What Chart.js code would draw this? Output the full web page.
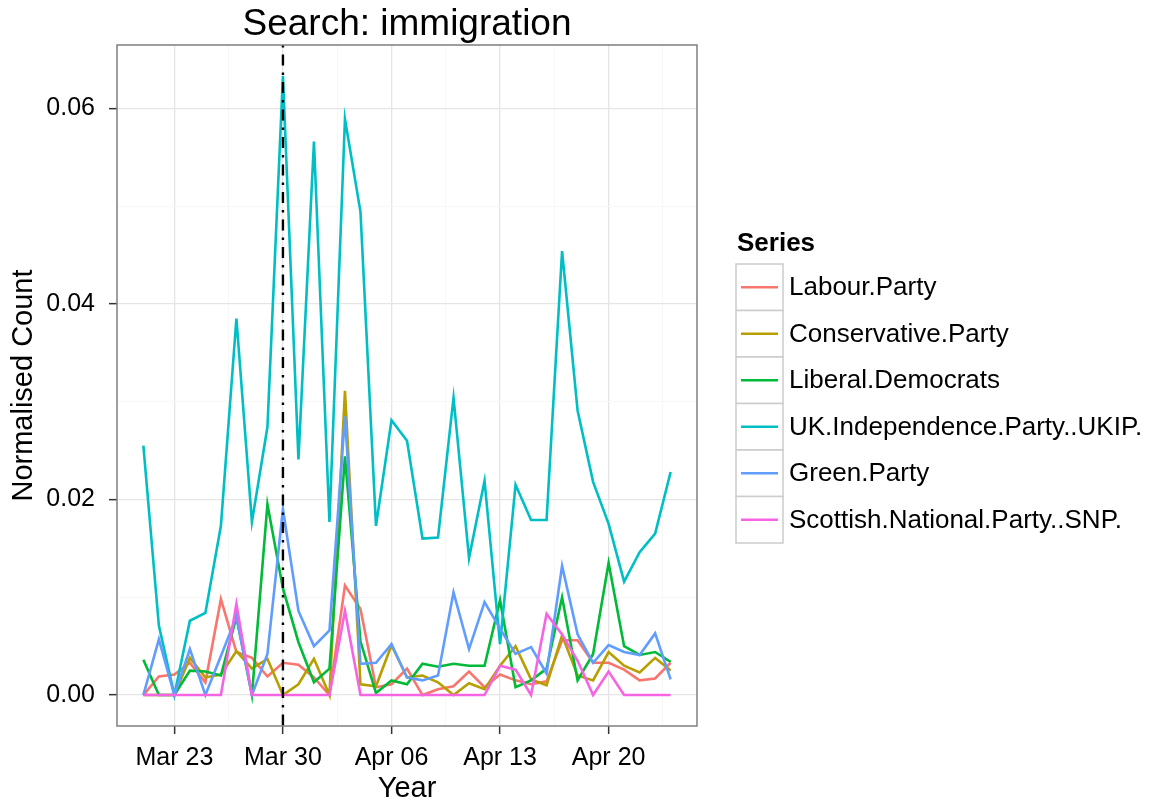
<!DOCTYPE html>
<html lang="en">
<head>
    <meta charset="UTF-8">
    <title>Search: immigration</title>
    <script src="https://cdn.jsdelivr.net/npm/chart.js"></script>
    <style>
        body { margin: 0; padding: 0; background: #fff; }
        #wrap { width: 1161px; height: 803px; }
    </style>
</head>
<body>
<div id="wrap"><canvas id="chart" width="1161" height="803"></canvas></div>
<script>
    // daily points, Mar 21 .. Apr 24
    const days = ['Mar 21', 'Mar 22', 'Mar 23', 'Mar 24', 'Mar 25', 'Mar 26', 'Mar 27', 'Mar 28', 'Mar 29', 'Mar 30',
                  'Mar 31', 'Apr 01', 'Apr 02', 'Apr 03', 'Apr 04', 'Apr 05', 'Apr 06', 'Apr 07', 'Apr 08', 'Apr 09',
                  'Apr 10', 'Apr 11', 'Apr 12', 'Apr 13', 'Apr 14', 'Apr 15', 'Apr 16', 'Apr 17', 'Apr 18', 'Apr 19',
                  'Apr 20', 'Apr 21', 'Apr 22', 'Apr 23', 'Apr 24'];

    const labour = [0, 0.0019, 0.0021, 0.0033, 0.0013, 0.0098, 0.0044, 0.0038, 0.0019, 0.0033,
                    0.0031, 0.0018, 0, 0.0112, 0.0088, 0.0008, 0.0011, 0.0027, 0, 0.0006,
                    0.0009, 0.0024, 0.0008, 0.0021, 0.0015, 0.0011, 0.0014, 0.0056, 0.0056, 0.0033,
                    0.0033, 0.0026, 0.0015, 0.0017, 0.0033];
    const conservative = [0, 0, 0, 0.0038, 0.0018, 0.0021, 0.0045, 0.0027, 0.0037, 0,
                          0.0011, 0.0037, 0, 0.0311, 0.0011, 0.0009, 0.0051, 0.0018, 0.0020, 0.0013,
                          0, 0.0012, 0.0006, 0.0030, 0.0050, 0.0016, 0.0010, 0.0061, 0.0020, 0.0015,
                          0.0044, 0.0030, 0.0023, 0.0038, 0.0025];
    const libDems = [0.0036, 0, 0, 0.0025, 0.0024, 0.0020, 0.0080, 0, 0.0195, 0.0109,
                     0.0054, 0.0013, 0.0027, 0.0244, 0.0055, 0.0002, 0.0015, 0.0011, 0.0032, 0.0029,
                     0.0032, 0.0030, 0.0030, 0.0097, 0.0008, 0.0015, 0.0027, 0.0100, 0.0015, 0.0042,
                     0.0135, 0.0050, 0.0041, 0.0044, 0.0034];
    const ukip = [0.0255, 0.0071, 0, 0.0076, 0.0084, 0.0173, 0.0385, 0.0177, 0.0274, 0.0633,
                  0.0241, 0.0566, 0.0177, 0.0589, 0.0494, 0.0173, 0.0281, 0.0260, 0.0160, 0.0161,
                  0.0304, 0.0140, 0.0219, 0.0052, 0.0215, 0.0179, 0.0179, 0.0454, 0.0291, 0.0218,
                  0.0175, 0.0116, 0.0146, 0.0165, 0.0228];
    const greens = [0, 0.0057, 0, 0.0047, 0, 0.0040, 0.0080, 0, 0.0042, 0.0190,
                    0.0086, 0.0050, 0.0066, 0.0285, 0.0032, 0.0033, 0.0052, 0.0018, 0.0015, 0.0020,
                    0.0105, 0.0047, 0.0095, 0.0068, 0.0042, 0.0049, 0.0022, 0.0132, 0.0062, 0.0033,
                    0.0051, 0.0044, 0.0041, 0.0063, 0.0016];
    const snp = [0, 0, 0, 0, 0, 0, 0.0093, 0, 0, 0,
                 0, 0, 0, 0.0086, 0, 0, 0, 0, 0, 0,
                 0, 0, 0, 0.0030, 0.0026, 0, 0.0083, 0.0062, 0.0035, 0,
                 0.0024, 0, 0, 0, 0];

    const seriesNames = ['Labour.Party', 'Conservative.Party', 'Liberal.Democrats',
                         'UK.Independence.Party..UKIP.', 'Green.Party', 'Scottish.National.Party..SNP.'];
    const seriesColors = ['#F8766D', '#B79F00', '#00BA38', '#00BFC4', '#619CFF', '#F564E3'];
    const seriesData = [labour, conservative, libDems, ukip, greens, snp];

    const xTickLabels = ['Mar 23', 'Mar 30', 'Apr 06', 'Apr 13', 'Apr 20'];
    const yTickValues = [0, 0.02, 0.04, 0.06];
    const markerDay = 'Mar 30';

    const FONT = '"Liberation Sans", Arial, Helvetica, sans-serif';
    Chart.defaults.font.family = FONT;
    Chart.defaults.color = '#000';

    // major ticks from the label lists, minor ones half way between
    const xMajor = xTickLabels.map(l => days.indexOf(l));
    const xTicks = [];
    xMajor.forEach((v, i) => {
        xTicks.push({ value: v, label: xTickLabels[i] });
        const step = xMajor[1] - xMajor[0];
        xTicks.push({ value: v + step / 2, minor: true });
    });
    const yTicks = [];
    yTickValues.forEach((v, i) => {
        yTicks.push({ value: v });
        if (i < yTickValues.length - 1) yTicks.push({ value: (v + yTickValues[i + 1]) / 2, minor: true });
    });

    const n = days.length - 1;
    const yMax = Math.max(...seriesData.flat());

    const isMinor = c => c.tick && c.tick.minor;
    const gridOpts = {
        color: c => isMinor(c) ? '#F7F7F7' : '#E5E5E5',
        lineWidth: c => isMinor(c) ? 1 : 1.3,
        tickColor: c => isMinor(c) ? 'rgba(0,0,0,0)' : '#333333',
        tickLength: 8,
        tickWidth: 1.5
    };

    const ggPanel = {
        id: 'ggPanel',
        afterDatasetsDraw(chart) {
            const ctx = chart.ctx, a = chart.chartArea;
            const x = chart.scales.x.getPixelForValue(days.indexOf(markerDay));
            ctx.save();
            ctx.strokeStyle = '#000';
            ctx.lineWidth = 2.4;
            ctx.setLineDash([2.5, 7, 11, 7]);
            ctx.beginPath();
            ctx.moveTo(x, a.top);
            ctx.lineTo(x, a.bottom);
            ctx.stroke();
            ctx.setLineDash([]);
            ctx.strokeStyle = '#7F7F7F';
            ctx.lineWidth = 1.5;
            ctx.strokeRect(a.left, a.top, a.right - a.left, a.bottom - a.top);
            ctx.restore();
        }
    };

    const ggLegend = {
        id: 'ggLegend',
        afterDraw(chart) {
            const ctx = chart.ctx;
            const x0 = chart.chartArea.right + 39;
            const keyTop = 264, keyH = 46.5, keyW = 47;
            ctx.save();
            ctx.fillStyle = '#000';
            ctx.textBaseline = 'middle';
            ctx.font = 'bold 26px ' + FONT;
            ctx.fillText('Series', x0 + 1, 244);
            chart.data.datasets.forEach((ds, i) => {
                const top = keyTop + i * keyH;
                const cy = top + keyH / 2;
                ctx.fillStyle = '#fff';
                ctx.fillRect(x0, top, keyW, keyH);
                ctx.strokeStyle = '#CCCCCC';
                ctx.lineWidth = 1.5;
                ctx.strokeRect(x0, top, keyW, keyH);
                ctx.strokeStyle = ds.borderColor;
                ctx.lineWidth = 2.6;
                ctx.beginPath();
                ctx.moveTo(x0 + 5, cy);
                ctx.lineTo(x0 + keyW - 5, cy);
                ctx.stroke();
                ctx.fillStyle = '#000';
                ctx.font = '26px ' + FONT;
                ctx.fillText(ds.label, x0 + 53, cy + 1);
            });
            ctx.restore();
        }
    };

    new Chart(document.getElementById('chart'), {
        type: 'line',
        data: {
            datasets: seriesNames.map((name, i) => ({
                label: name,
                data: seriesData[i].map((v, j) => ({ x: j, y: v })),
                borderColor: seriesColors[i],
                backgroundColor: seriesColors[i],
                borderWidth: 2.6,
                pointRadius: 0,
                tension: 0,
                fill: false,
                order: seriesNames.length - i
            }))
        },
        options: {
            responsive: false,
            animation: false,
            layout: { padding: { left: 0, right: 464, top: 0, bottom: 0 } },
            plugins: {
                legend: { display: false },
                tooltip: { enabled: false },
                title: {
                    display: true,
                    text: 'Search: immigration',
                    fullSize: false,
                    color: '#000',
                    font: { size: 37, weight: 'normal' },
                    padding: { top: 3, bottom: -2.4 }
                }
            },
            scales: {
                x: {
                    type: 'linear',
                    min: -0.05 * n,
                    max: n * 1.05,
                    afterBuildTicks: s => { s.ticks = xTicks.map(t => ({ ...t })); },
                    afterFit: s => { s.height = 77; },
                    grid: gridOpts,
                    border: { display: false },
                    ticks: {
                        autoSkip: false,
                        maxRotation: 0,
                        padding: 9,
                        color: '#000',
                        font: { size: 25 },
                        callback: (v, i) => xTicks[i].label || ''
                    },
                    title: {
                        display: true,
                        text: 'Year',
                        color: '#000',
                        font: { size: 29 },
                        padding: { top: 0, bottom: -3 }
                    }
                },
                y: {
                    min: -0.05 * yMax,
                    max: yMax * 1.05,
                    afterBuildTicks: s => { s.ticks = yTicks.map(t => ({ ...t })); },
                    afterFit: s => { s.width = 117; },
                    grid: gridOpts,
                    border: { display: false },
                    ticks: {
                        autoSkip: false,
                        padding: 14,
                        color: '#000',
                        font: { size: 25 },
                        callback: (v, i) => yTicks[i].minor ? '' : v.toFixed(2)
                    },
                    title: {
                        display: true,
                        text: 'Normalised Count',
                        color: '#000',
                        font: { size: 29 },
                        padding: { top: 7, bottom: 0 }
                    }
                }
            }
        },
        plugins: [ggPanel, ggLegend]
    });
</script>
</body>
</html>
